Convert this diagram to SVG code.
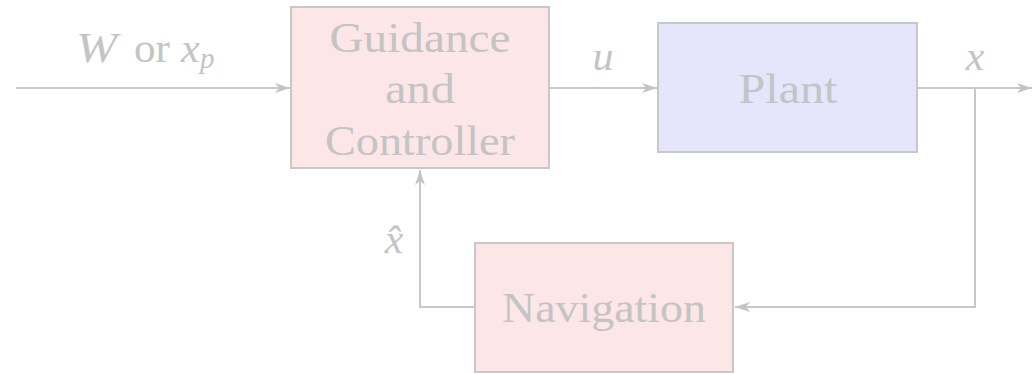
<svg xmlns="http://www.w3.org/2000/svg" width="1034" height="374" viewBox="0 0 1034 374">
  <defs>
    <marker id="arrow" viewBox="0 0 15 10" refX="15" refY="5" markerWidth="15" markerHeight="10" markerUnits="userSpaceOnUse" orient="auto">
      <path d="M0,0 L15,5 L0,10 L4,5 Z" fill="#c4c4c4"/>
    </marker>
  </defs>
  <style>
    .box { stroke: #c8c8c8; stroke-width: 2; }
    .red { fill: #fde6e7; }
    .blue { fill: #e5e5fb; }
    .lbl { font-family: "Liberation Serif", "DejaVu Serif", serif; fill: #c4c4c4; font-size: 42px; text-anchor: middle; }
    .start { text-anchor: start; }
    .math { font-style: italic; }
    .sub { font-size: 29px; }
    .wire { fill: none; stroke: #c8c8c8; stroke-width: 2; }
  </style>
  <rect width="1034" height="374" fill="#ffffff"/>

  <g id="guidance">
    <rect class="box red" x="291" y="7" width="258" height="161"/>
    <text class="lbl" x="420" y="52" textLength="181" lengthAdjust="spacingAndGlyphs">Guidance</text>
    <text class="lbl" x="420" y="103" textLength="70" lengthAdjust="spacingAndGlyphs">and</text>
    <text class="lbl" x="420" y="155" textLength="190" lengthAdjust="spacingAndGlyphs">Controller</text>
  </g>

  <g id="plant">
    <rect class="box blue" x="658" y="23" width="259" height="129"/>
    <text class="lbl" x="788" y="103" textLength="99" lengthAdjust="spacingAndGlyphs">Plant</text>
  </g>

  <g id="navigation">
    <rect class="box red" x="475" y="243" width="258" height="129"/>
    <text class="lbl" x="604" y="322" textLength="204" lengthAdjust="spacingAndGlyphs">Navigation</text>
  </g>

  <g id="connectors">
    <path class="wire" d="M16,88 H290" marker-end="url(#arrow)"/>
    <path class="wire" d="M549,88 H657" marker-end="url(#arrow)"/>
    <path class="wire" d="M917,88 H1032" marker-end="url(#arrow)"/>
    <path class="wire" d="M975,88 V307 H735" marker-end="url(#arrow)"/>
    <path class="wire" d="M475,307 H420 V170" marker-end="url(#arrow)"/>
  </g>

  <g id="labels">
    <text class="lbl start math" x="76" y="62" textLength="41" lengthAdjust="spacingAndGlyphs">W</text>
    <text class="lbl start" x="134" y="62" textLength="36" lengthAdjust="spacingAndGlyphs">or</text>
    <text class="lbl start math" x="181" y="62">x</text>
    <text class="lbl start math sub" x="200" y="68">p</text>
    <text class="lbl math" x="603" y="70">u</text>
    <text class="lbl math" x="975" y="70">x</text>
    <text class="lbl math" x="394" y="253">x̂</text>
  </g>
</svg>
